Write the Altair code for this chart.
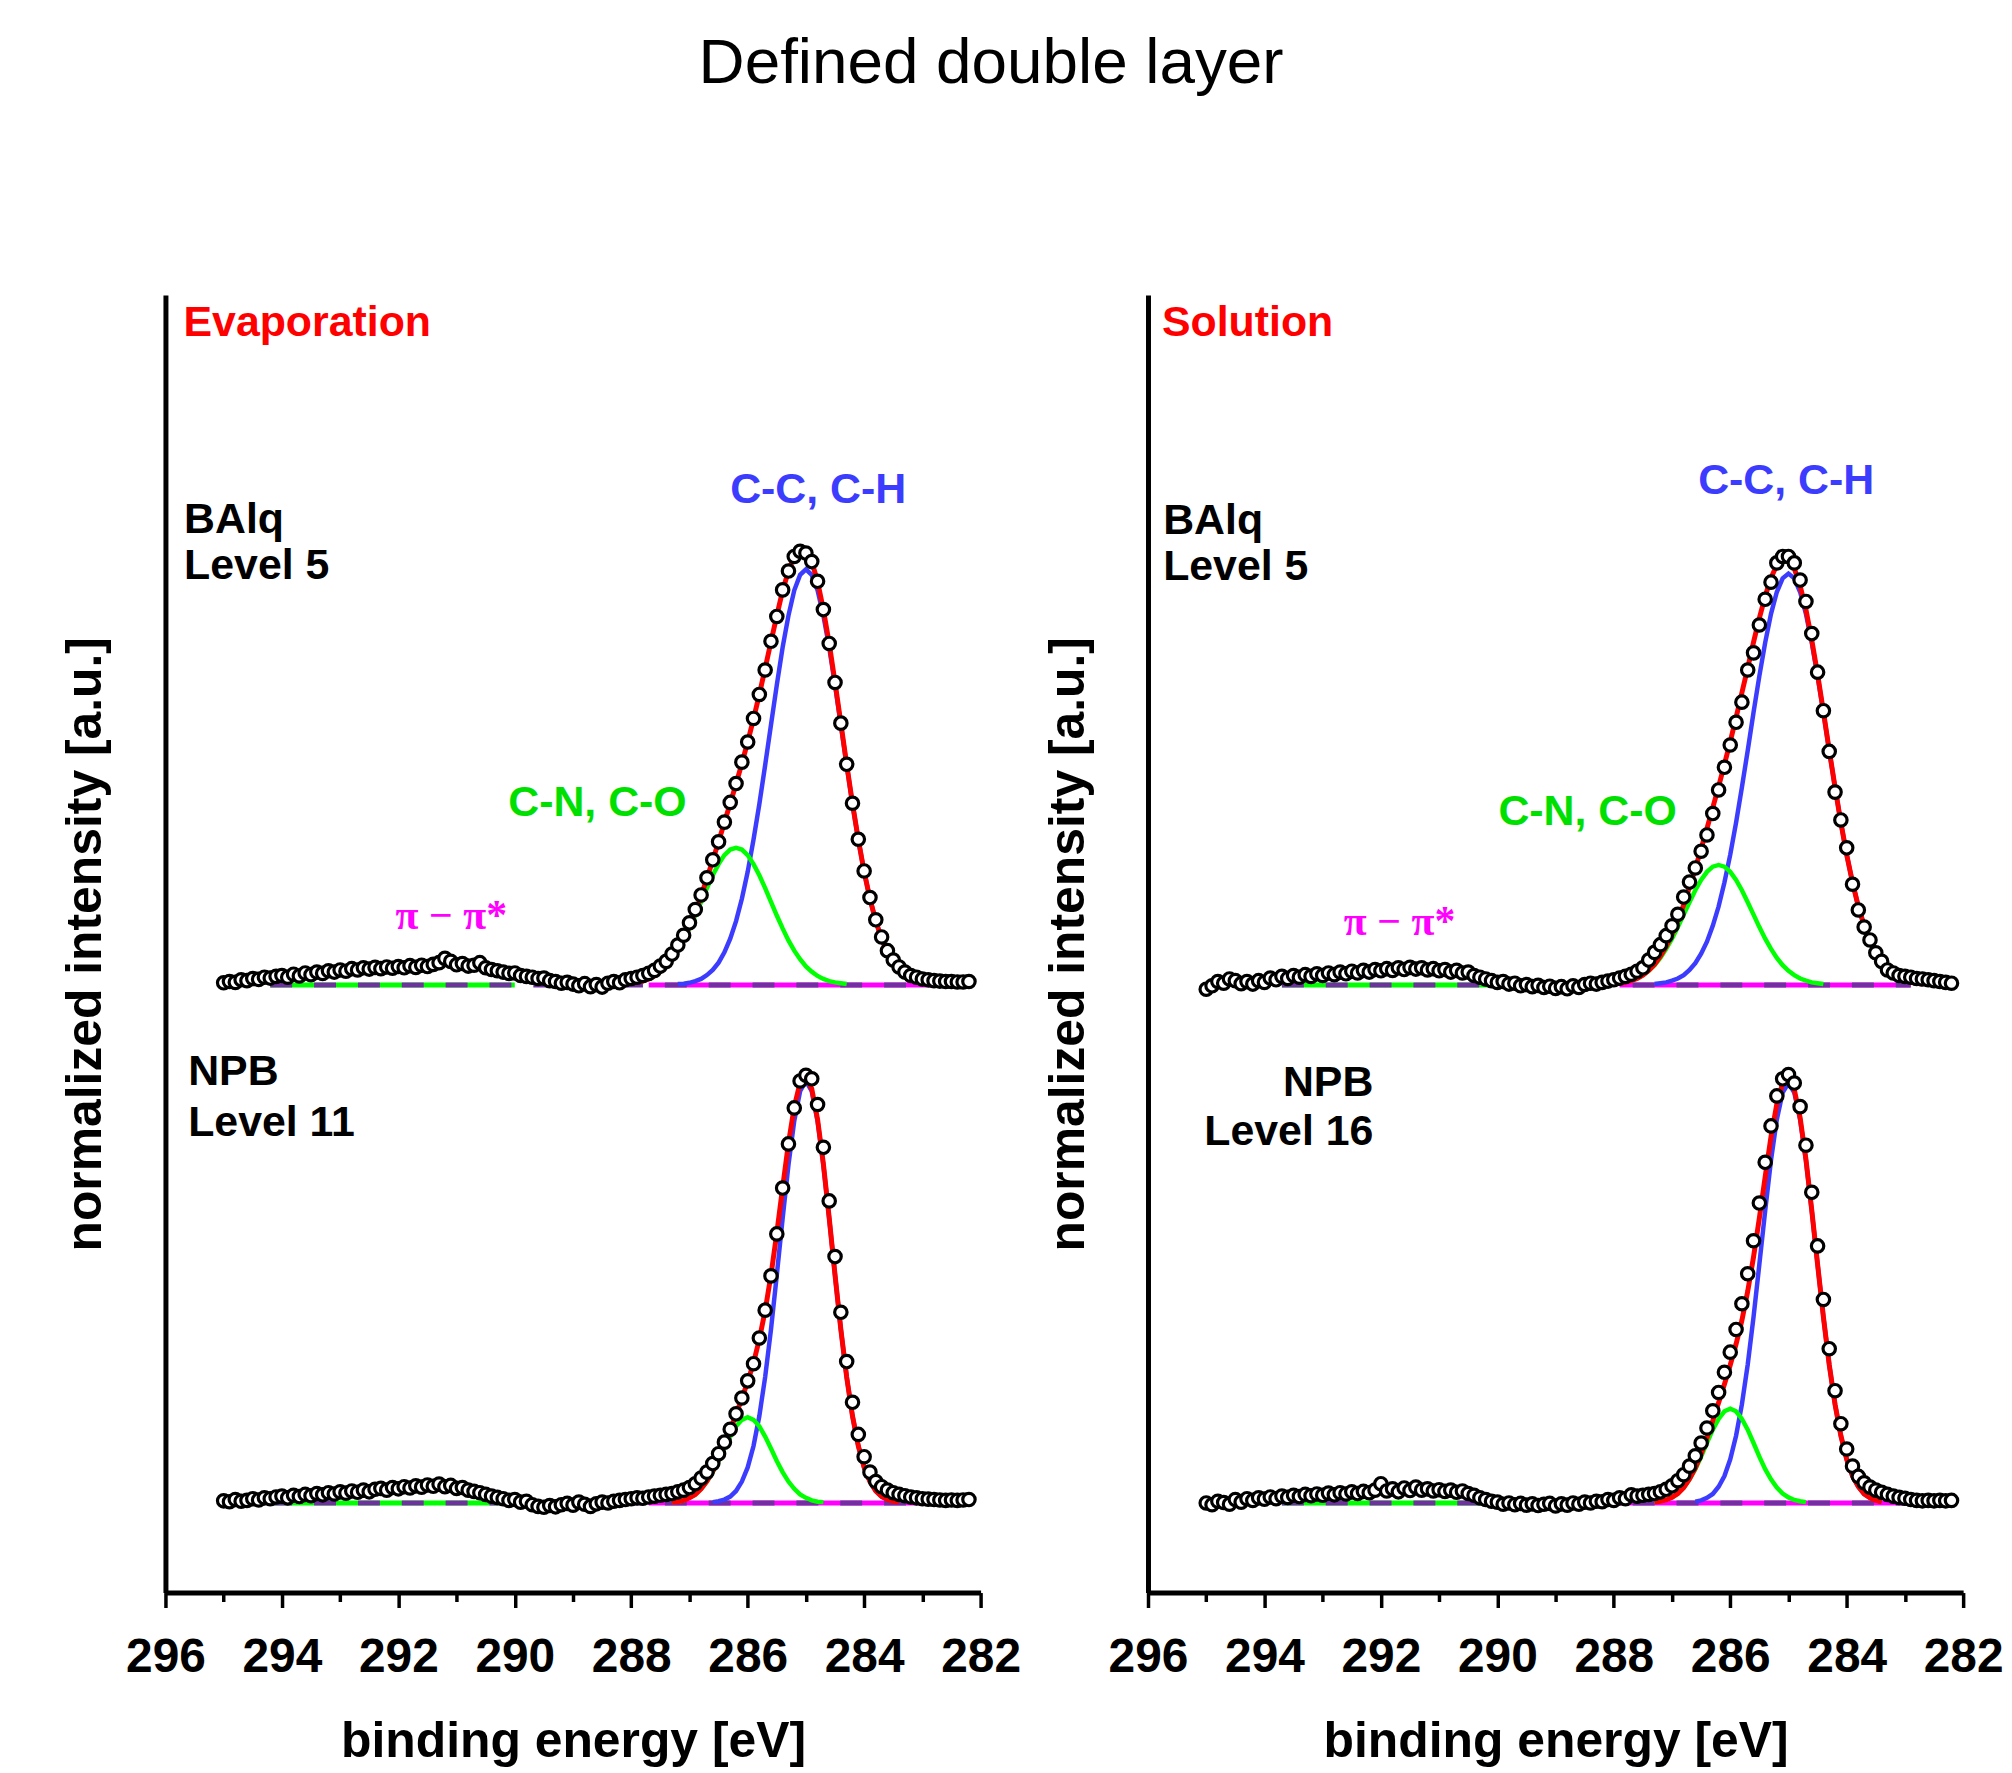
import altair as alt
import pandas as pd

# ---------------- data ----------------
energy = [
    295.0, 294.9, 294.8, 294.7, 294.6, 294.5, 294.4, 294.3, 294.2, 294.1,
    294.0, 293.9, 293.8, 293.7, 293.6, 293.5, 293.4, 293.3, 293.2, 293.1,
    293.0, 292.9, 292.8, 292.7, 292.6, 292.5, 292.4, 292.3, 292.2, 292.1,
    292.0, 291.9, 291.8, 291.7, 291.6, 291.5, 291.4, 291.3, 291.2, 291.1,
    291.0, 290.9, 290.8, 290.7, 290.6, 290.5, 290.4, 290.3, 290.2, 290.1,
    290.0, 289.9, 289.8, 289.7, 289.6, 289.5, 289.4, 289.3, 289.2, 289.1,
    289.0, 288.9, 288.8, 288.7, 288.6, 288.5, 288.4, 288.3, 288.2, 288.1,
    288.0, 287.9, 287.8, 287.7, 287.6, 287.5, 287.4, 287.3, 287.2, 287.1,
    287.0, 286.9, 286.8, 286.7, 286.6, 286.5, 286.4, 286.3, 286.2, 286.1,
    286.0, 285.9, 285.8, 285.7, 285.6, 285.5, 285.4, 285.3, 285.2, 285.1,
    285.0, 284.9, 284.8, 284.7, 284.6, 284.5, 284.4, 284.3, 284.2, 284.1,
    284.0, 283.9, 283.8, 283.7, 283.6, 283.5, 283.4, 283.3, 283.2, 283.1,
    283.0, 282.9, 282.8, 282.7, 282.6, 282.5, 282.4, 282.3, 282.2,
]

comp_energy = [
    288.0, 287.9, 287.8, 287.7, 287.6, 287.5, 287.4, 287.3, 287.2, 287.1,
    287.0, 286.9, 286.8, 286.7, 286.6, 286.5, 286.4, 286.3, 286.2, 286.1,
    286.0, 285.9, 285.8, 285.7, 285.6, 285.5, 285.4, 285.3, 285.2, 285.1,
    285.0, 284.9, 284.8, 284.7, 284.6, 284.5, 284.4, 284.3, 284.2, 284.1,
    284.0, 283.9, 283.8, 283.7, 283.6, 283.5, 283.4, 283.3, 283.2, 283.1,
    283.0, 282.9, 282.8, 282.7, 282.6,
]

# measured intensities (normalised), Evaporation / BAlq level 5
evap_balq = [
    0.005, 0.008, 0.006, 0.012, 0.010, 0.015, 0.013, 0.018, 0.016, 0.020,
    0.022, 0.018, 0.025, 0.021, 0.028, 0.024, 0.030, 0.027, 0.033, 0.030,
    0.035, 0.032, 0.038, 0.035, 0.040, 0.037, 0.041, 0.038, 0.042, 0.039,
    0.043, 0.040, 0.045, 0.041, 0.046, 0.043, 0.048, 0.052, 0.062, 0.055,
    0.047, 0.050, 0.044, 0.046, 0.052, 0.040, 0.036, 0.033, 0.030, 0.027,
    0.028, 0.022, 0.020, 0.018, 0.015, 0.016, 0.010, 0.008, 0.004, 0.006,
    0.002, -0.002, 0.003, -0.004, 0.001, -0.005, 0.004, 0.008, 0.005, 0.012,
    0.015, 0.018, 0.022, 0.027, 0.034, 0.044, 0.055, 0.072, 0.093, 0.116,
    0.145, 0.176, 0.210, 0.250, 0.292, 0.334, 0.380, 0.426, 0.470, 0.520,
    0.567, 0.622, 0.678, 0.735, 0.802, 0.860, 0.922, 0.966, 1.000, 1.012,
    1.008, 0.988, 0.942, 0.876, 0.797, 0.706, 0.611, 0.515, 0.424, 0.340,
    0.266, 0.204, 0.152, 0.112, 0.080, 0.058, 0.042, 0.030, 0.022, 0.018,
    0.014, 0.012, 0.010, 0.009, 0.008, 0.008, 0.007, 0.007, 0.008,
]
# Evaporation / NPB level 11
evap_npb = [
    0.005, 0.003, 0.008, 0.004, 0.006, 0.010, 0.007, 0.012, 0.010, 0.014,
    0.016, 0.012, 0.018, 0.015, 0.020, 0.017, 0.022, 0.019, 0.024, 0.021,
    0.026, 0.023, 0.028, 0.025, 0.030, 0.026, 0.032, 0.034, 0.030, 0.036,
    0.033, 0.038, 0.035, 0.040, 0.037, 0.042, 0.039, 0.044, 0.038, 0.041,
    0.034, 0.036, 0.030, 0.027, 0.024, 0.020, 0.016, 0.013, 0.010, 0.006,
    0.008, 0.002, 0.004, -0.004, -0.008, -0.010, -0.006, -0.009, -0.004, -0.001,
    -0.005, 0.002, -0.003, -0.008, -0.002, 0.002, 0.000, 0.004, 0.006, 0.008,
    0.010, 0.012, 0.011, 0.014, 0.016, 0.018, 0.020, 0.022, 0.026, 0.030,
    0.036, 0.045, 0.058, 0.072, 0.092, 0.115, 0.142, 0.172, 0.208, 0.245,
    0.285, 0.325, 0.385, 0.450, 0.530, 0.628, 0.735, 0.838, 0.922, 0.985,
    0.998, 0.990, 0.930, 0.830, 0.705, 0.575, 0.445, 0.330, 0.235, 0.160,
    0.108, 0.072, 0.050, 0.038, 0.030, 0.024, 0.020, 0.017, 0.014, 0.012,
    0.010, 0.009, 0.008, 0.007, 0.006, 0.007, 0.006, 0.007, 0.008,
]
# Solution / BAlq level 5
sol_balq = [
    -0.010, -0.002, 0.008, 0.004, 0.014, 0.010, 0.003, 0.008, 0.002, 0.010,
    0.006, 0.016, 0.012, 0.020, 0.015, 0.022, 0.018, 0.024, 0.020, 0.026,
    0.022, 0.028, 0.024, 0.030, 0.026, 0.032, 0.028, 0.034, 0.030, 0.036,
    0.033, 0.038, 0.034, 0.040, 0.036, 0.041, 0.037, 0.040, 0.035, 0.038,
    0.033, 0.036, 0.030, 0.034, 0.028, 0.030, 0.022, 0.018, 0.014, 0.010,
    0.006, 0.008, 0.002, 0.004, -0.002, 0.001, -0.004, -0.001, -0.006, -0.003,
    -0.008, -0.004, -0.009, -0.002, -0.006, 0.001, 0.004, 0.002, 0.006, 0.009,
    0.012, 0.016, 0.020, 0.025, 0.032, 0.040, 0.058, 0.076, 0.094, 0.115,
    0.138, 0.165, 0.205, 0.240, 0.273, 0.312, 0.350, 0.400, 0.455, 0.508,
    0.560, 0.613, 0.660, 0.735, 0.775, 0.840, 0.900, 0.940, 0.985, 1.000,
    1.000, 0.985, 0.945, 0.895, 0.820, 0.730, 0.640, 0.545, 0.450, 0.385,
    0.320, 0.235, 0.175, 0.135, 0.105, 0.075, 0.055, 0.035, 0.028, 0.022,
    0.020, 0.018, 0.015, 0.014, 0.012, 0.010, 0.008, 0.006, 0.004,
]
# Solution / NPB level 16
sol_npb = [
    0.000, -0.004, 0.004, 0.001, -0.003, 0.008, 0.002, 0.010, 0.006, 0.012,
    0.009, 0.014, 0.010, 0.016, 0.013, 0.018, 0.015, 0.020, 0.017, 0.021,
    0.018, 0.023, 0.019, 0.024, 0.021, 0.026, 0.022, 0.027, 0.024, 0.030,
    0.045, 0.028, 0.033, 0.026, 0.035, 0.029, 0.037, 0.030, 0.033, 0.028,
    0.031, 0.027, 0.030, 0.025, 0.028, 0.022, 0.018, 0.012, 0.008, 0.004,
    0.002, -0.003, 0.000, -0.004, -0.001, -0.005, -0.002, -0.006, -0.003, -0.001,
    -0.007, -0.002, -0.005, 0.000, -0.003, 0.002, 0.000, 0.004, 0.003, 0.008,
    0.006, 0.012, 0.010, 0.019, 0.016, 0.018, 0.020, 0.022, 0.026, 0.032,
    0.040, 0.052, 0.066, 0.086, 0.110, 0.140, 0.175, 0.215, 0.258, 0.305,
    0.352, 0.405, 0.465, 0.535, 0.612, 0.700, 0.795, 0.880, 0.950, 0.990,
    1.000, 0.980, 0.925, 0.835, 0.725, 0.600, 0.475, 0.360, 0.262, 0.185,
    0.126, 0.086, 0.062, 0.047, 0.037, 0.030, 0.025, 0.020, 0.016, 0.013,
    0.011, 0.008, 0.006, 0.005, 0.006, 0.005, 0.006, 0.005, 0.006,
]

# fitted components on comp_energy (C-C/C-H = blue, C-N/C-O = green)
evap_balq_cc = [
    0, 0, 0, 0, 0, 0, 0.001, 0.001, 0.002, 0.003,
    0.005, 0.009, 0.014, 0.023, 0.035, 0.052, 0.076, 0.108, 0.149, 0.201,
    0.264, 0.339, 0.422, 0.513, 0.607, 0.700, 0.788, 0.862, 0.921, 0.957,
    0.970, 0.957, 0.921, 0.862, 0.788, 0.700, 0.607, 0.513, 0.422, 0.339,
    0.264, 0.201, 0.149, 0.108, 0.076, 0.052, 0.035, 0.023, 0.014, 0.009,
    0.005, 0.003, 0.002, 0.001, 0.001,
]
evap_balq_cn = [
    0.004, 0.006, 0.009, 0.014, 0.021, 0.031, 0.043, 0.060, 0.080, 0.104,
    0.132, 0.162, 0.194, 0.226, 0.256, 0.282, 0.303, 0.316, 0.320, 0.316,
    0.303, 0.282, 0.256, 0.226, 0.194, 0.162, 0.132, 0.104, 0.080, 0.060,
    0.043, 0.031, 0.021, 0.014, 0.009, 0.006, 0.004, 0.002, 0.001, 0,
    0, 0, 0, 0, 0, 0, 0, 0, 0, 0,
    0, 0, 0, 0, 0,
]
evap_npb_cc = [
    0, 0, 0, 0, 0, 0, 0, 0, 0, 0,
    0, 0, 0, 0.001, 0.002, 0.004, 0.008, 0.015, 0.028, 0.050,
    0.083, 0.133, 0.203, 0.294, 0.405, 0.532, 0.664, 0.789, 0.892, 0.961,
    0.985, 0.961, 0.892, 0.789, 0.664, 0.532, 0.405, 0.294, 0.203, 0.133,
    0.083, 0.050, 0.028, 0.015, 0.008, 0.004, 0.002, 0.001, 0, 0,
    0, 0, 0, 0, 0,
]
evap_npb_cn = [
    0, 0, 0, 0, 0, 0, 0.001, 0.002, 0.003, 0.006,
    0.012, 0.020, 0.033, 0.050, 0.072, 0.098, 0.127, 0.155, 0.179, 0.194,
    0.200, 0.194, 0.179, 0.155, 0.127, 0.098, 0.072, 0.050, 0.033, 0.020,
    0.012, 0.006, 0.003, 0.002, 0.001, 0, 0, 0, 0, 0,
    0, 0, 0, 0, 0, 0, 0, 0, 0, 0,
    0, 0, 0, 0, 0,
]
sol_balq_cc = [
    0, 0, 0, 0, 0, 0, 0.001, 0.002, 0.004, 0.006,
    0.010, 0.015, 0.023, 0.035, 0.051, 0.073, 0.101, 0.138, 0.183, 0.239,
    0.304, 0.379, 0.461, 0.547, 0.636, 0.721, 0.799, 0.866, 0.917, 0.949,
    0.960, 0.949, 0.917, 0.866, 0.799, 0.721, 0.636, 0.547, 0.461, 0.379,
    0.304, 0.239, 0.183, 0.138, 0.101, 0.073, 0.051, 0.035, 0.023, 0.015,
    0.010, 0.006, 0.004, 0.002, 0.001,
]
sol_balq_cn = [
    0.002, 0.004, 0.006, 0.010, 0.015, 0.023, 0.033, 0.046, 0.063, 0.084,
    0.108, 0.135, 0.164, 0.193, 0.221, 0.245, 0.264, 0.276, 0.280, 0.276,
    0.264, 0.245, 0.221, 0.193, 0.164, 0.135, 0.108, 0.084, 0.063, 0.046,
    0.033, 0.023, 0.015, 0.010, 0.006, 0.004, 0.002, 0.001, 0, 0,
    0, 0, 0, 0, 0, 0, 0, 0, 0, 0,
    0, 0, 0, 0, 0,
]
sol_npb_cc = [
    0, 0, 0, 0, 0, 0, 0, 0, 0, 0,
    0, 0, 0, 0.001, 0.003, 0.006, 0.012, 0.021, 0.038, 0.063,
    0.102, 0.157, 0.230, 0.323, 0.434, 0.557, 0.682, 0.800, 0.895, 0.958,
    0.980, 0.958, 0.895, 0.800, 0.682, 0.557, 0.434, 0.323, 0.230, 0.157,
    0.102, 0.063, 0.038, 0.021, 0.012, 0.006, 0.003, 0.001, 0, 0,
    0, 0, 0, 0, 0,
]
sol_npb_cn = [
    0, 0, 0, 0, 0, 0, 0.001, 0.002, 0.004, 0.007,
    0.013, 0.022, 0.036, 0.055, 0.079, 0.108, 0.140, 0.171, 0.196, 0.214,
    0.220, 0.214, 0.196, 0.171, 0.140, 0.108, 0.079, 0.055, 0.036, 0.022,
    0.013, 0.007, 0.004, 0.002, 0.001, 0, 0, 0, 0, 0,
    0, 0, 0, 0, 0, 0, 0, 0, 0, 0,
    0, 0, 0, 0, 0,
]

# vertical stacking offsets of the two spectra in each panel
offset_top = 1.209
offset_bottom = 0.0

# flat (zero) parts of the fit: [start, end] in eV
evap_zero_cn = [294.2, 290.0]
evap_zero_pi = [287.7, 282.8]
evap_background = [294.2, 282.8]
sol_zero_cn = [293.7, 290.0]
sol_zero_pi = [287.9, 282.9]
sol_background = [293.7, 282.9]

x_ticks = [296, 295, 294, 293, 292, 291, 290, 289, 288, 287, 286, 285, 284, 283, 282]

# ---------------- styling ----------------
RED = "#ff0000"
BLUE = "#3c3cff"
GREEN = "#00ff00"
GREEN_TXT = "#00e000"
MAGENTA = "#ff00ff"
PURPLE = "#7030a0"
FONT = "Liberation Sans"

W, H = 818, 1302

xscale = alt.Scale(domain=[282, 296], reverse=True, nice=False, zero=False)
yscale = alt.Scale(domain=[-0.209, 2.819], nice=False, zero=False)

xaxis = alt.Axis(
    values=x_ticks,
    title="binding energy [eV]",
    labelExpr="datum.value % 2 === 0 ? datum.label : ''",
    tickSize={"condition": {"test": "datum.value % 2 === 0", "value": 15}, "value": 9},
    tickWidth=3.5,
    tickColor="black",
    domainWidth=5,
    domainColor="black",
    labelFont=FONT,
    labelFontSize=48,
    labelFontWeight="bold",
    labelColor="black",
    labelPadding=26,
    labelFlush=False,
    labelOverlap=False,
    titleFont=FONT,
    titleFontSize=50,
    titleFontWeight="bold",
    titleColor="black",
    titlePadding=36,
    grid=False,
)
yaxis = alt.Axis(
    title="normalized intensity [a.u.]",
    labels=False,
    ticks=False,
    grid=False,
    domainWidth=5,
    domainColor="black",
    titleFont=FONT,
    titleFontSize=50,
    titleFontWeight="bold",
    titleColor="black",
    titlePadding=55,
)


def enc(chart):
    return chart.encode(
        x=alt.X("E:Q", scale=xscale, axis=xaxis),
        y=alt.Y("I:Q", scale=yscale, axis=yaxis),
    )


def seg(rng, offset):
    return pd.DataFrame({"E": rng, "I": [offset, offset]})


def comp_frame(values, offset):
    df = pd.DataFrame({"E": comp_energy, "v": values})
    df = df[df["v"] > 0.0015]
    return pd.DataFrame({"E": df["E"], "I": df["v"] + offset})


def spectrum_layers(meas, cc, cn, offset, zero_cn, zero_pi, background):
    red_vals = [a + b for a, b in zip(cc, cn)]
    pts = pd.DataFrame({"E": energy, "I": [v + offset for v in meas]})
    layers = [
        enc(alt.Chart(seg(zero_cn, offset)).mark_line(color=GREEN, strokeWidth=5)),
        enc(alt.Chart(seg(zero_pi, offset)).mark_line(color=MAGENTA, strokeWidth=5)),
        enc(alt.Chart(seg(background, offset)).mark_line(color=PURPLE, strokeWidth=5, strokeDash=[22, 22])),
        enc(alt.Chart(comp_frame(cc, offset)).mark_line(color=BLUE, strokeWidth=4.5)),
        enc(alt.Chart(comp_frame(cn, offset)).mark_line(color=GREEN, strokeWidth=4.5)),
        enc(alt.Chart(comp_frame(red_vals, offset)).mark_line(color=RED, strokeWidth=5)),
        enc(alt.Chart(pts).mark_point(shape="circle", fill="white", stroke="black",
                                      strokeWidth=3.2, size=155, opacity=1, fillOpacity=1)),
    ]
    return layers


def text_layer(txt, x, y, color, align="left", font=FONT, size=43, weight="bold"):
    df = pd.DataFrame({"E": [x], "I": [y], "t": [txt]})
    return alt.Chart(df).mark_text(
        align=align, baseline="middle", font=font, fontSize=size,
        fontWeight=weight, color=color,
    ).encode(
        x=alt.X("E:Q", scale=xscale, axis=xaxis),
        y=alt.Y("I:Q", scale=yscale, axis=yaxis),
        text="t:N",
    )


left_layers = (
    spectrum_layers(evap_balq, evap_balq_cc, evap_balq_cn, offset_top,
                    evap_zero_cn, evap_zero_pi, evap_background)
    + spectrum_layers(evap_npb, evap_npb_cc, evap_npb_cn, offset_bottom,
                      evap_zero_cn, evap_zero_pi, evap_background)
    + [
        text_layer("Evaporation", 295.69, 2.753, RED),
        text_layer("BAlq", 295.68, 2.295, "black"),
        text_layer("Level 5", 295.68, 2.186, "black"),
        text_layer("NPB", 295.61, 1.005, "black"),
        text_layer("Level 11", 295.61, 0.886, "black"),
        text_layer("C-C, C-H", 284.79, 2.363, BLUE, align="center"),
        text_layer("C-N, C-O", 288.58, 1.633, GREEN_TXT, align="center"),
        text_layer("π − π*", 291.09, 1.370, MAGENTA, align="center",
                   font="Liberation Serif", size=42),
    ]
)

right_layers = (
    spectrum_layers(sol_balq, sol_balq_cc, sol_balq_cn, offset_top,
                    sol_zero_cn, sol_zero_pi, sol_background)
    + spectrum_layers(sol_npb, sol_npb_cc, sol_npb_cn, offset_bottom,
                      sol_zero_cn, sol_zero_pi, sol_background)
    + [
        text_layer("Solution", 295.76, 2.753, RED),
        text_layer("BAlq", 295.74, 2.291, "black"),
        text_layer("Level 5", 295.74, 2.184, "black"),
        text_layer("NPB", 292.13, 0.979, "black", align="right"),
        text_layer("Level 16", 292.13, 0.865, "black", align="right"),
        text_layer("C-C, C-H", 285.04, 2.386, BLUE, align="center"),
        text_layer("C-N, C-O", 288.45, 1.612, GREEN_TXT, align="center"),
        text_layer("π − π*", 291.68, 1.355, MAGENTA, align="center",
                   font="Liberation Serif", size=42),
    ]
)

left = alt.layer(*left_layers).properties(width=W, height=H)
right = alt.layer(*right_layers).properties(width=W, height=H)

chart = (
    alt.hconcat(left, right, spacing=22)
    .properties(
        title=alt.TitleParams(
            "Defined double layer", font=FONT, fontSize=64, fontWeight="normal",
            color="black", anchor="middle", offset=200, dx=-41,
        ),
        padding={"left": 53, "top": 21, "right": 0, "bottom": 0},
        background="white",
    )
    .configure_view(stroke=None)
)

chart.save("out.html", embed_options={"renderer": "svg", "actions": False})
